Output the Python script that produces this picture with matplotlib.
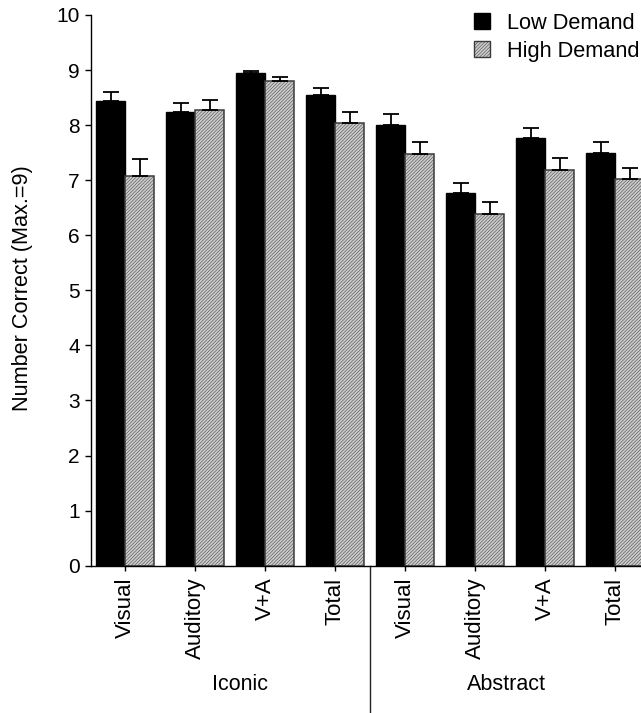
#!/usr/bin/env python3
"""Grouped bar chart: number correct by modality, iconic vs abstract."""

from __future__ import annotations

import matplotlib

matplotlib.use("Agg")
import matplotlib.pyplot as plt
import numpy as np
from matplotlib.patches import Patch

# --- data -------------------------------------------------------------------
CATEGORIES = ["Visual", "Auditory", "V+A", "Total", "Visual", "Auditory", "V+A", "Total"]
GROUPS = ["Iconic", "Abstract"]
LOW_DEMAND = [8.43, 8.24, 8.94, 8.54, 8.00, 6.76, 7.76, 7.50]
LOW_DEMAND_ERR = [0.18, 0.17, 0.04, 0.13, 0.20, 0.19, 0.18, 0.19]
HIGH_DEMAND = [7.08, 8.28, 8.80, 8.03, 7.47, 6.38, 7.19, 7.02]
HIGH_DEMAND_ERR = [0.30, 0.17, 0.08, 0.20, 0.22, 0.22, 0.22, 0.21]
SERIES = ["Low Demand", "High Demand"]
Y_TICKS = list(range(0, 11))

# --- style ------------------------------------------------------------------
_FONT = ["Liberation Sans", "Arial", "DejaVu Sans"]
_LOW_COLOR = "#000000"
_HIGH_COLOR = "#cbcbcb"
_HIGH_EDGE = "#3a3a3a"
# dense, faint hatch approximating the dithered grey fill of the original
_HATCH = "//////////"
_BAR_WIDTH = 0.414
_TICK_SIZE = 15
_CAT_SIZE = 16
_GROUP_SIZE = 15.5

plt.rcParams["font.family"] = _FONT
plt.rcParams["hatch.color"] = "#b3b3b3"
plt.rcParams["hatch.linewidth"] = 0.35


def main() -> None:
    fig = plt.figure(figsize=(6.41, 7.13), dpi=100)
    W, H = 641, 713
    # axes placed in pixel terms: y-axis at x=91, y=10 at 15px, y=0 at 566px
    left, right, top, bottom = 91, 660, 15, 565.7
    ax = fig.add_axes([left / W, 1 - bottom / H, (right - left) / W, (bottom - top) / H])

    x = np.arange(len(CATEGORIES))
    up_low = [np.zeros(len(x)), LOW_DEMAND_ERR]
    up_high = [np.zeros(len(x)), HIGH_DEMAND_ERR]

    ax.bar(x - _BAR_WIDTH / 2, LOW_DEMAND, _BAR_WIDTH, color=_LOW_COLOR,
           edgecolor=_LOW_COLOR, linewidth=1, zorder=2)
    ax.bar(x + _BAR_WIDTH / 2, HIGH_DEMAND, _BAR_WIDTH, color=_HIGH_COLOR,
           edgecolor=_HIGH_EDGE, linewidth=1.1, hatch=_HATCH, zorder=2)
    ax.errorbar(x - _BAR_WIDTH / 2, LOW_DEMAND, yerr=up_low, fmt="none",
                ecolor="black", elinewidth=1.3, capsize=5.5, capthick=1.3, zorder=3)
    ax.errorbar(x + _BAR_WIDTH / 2, HIGH_DEMAND, yerr=up_high, fmt="none",
                ecolor="black", elinewidth=1.3, capsize=5.5, capthick=1.3, zorder=3)

    x_lo = (left - 125.3) / 70
    x_hi = (right - 125.3) / 70
    ax.set_xlim(x_lo, x_hi)
    ax.set_ylim(0, 10)
    ax.set_yticks(Y_TICKS)
    ax.set_yticklabels([str(t) for t in Y_TICKS], fontsize=_TICK_SIZE)
    ax.set_xticks(x)
    ax.set_xticklabels(CATEGORIES, rotation=90, fontsize=_CAT_SIZE)
    ax.tick_params(axis="y", length=4.5, width=1, pad=3.5)
    ax.tick_params(axis="x", length=3.5, width=1, pad=5)

    for side in ("top", "right"):
        ax.spines[side].set_visible(False)
    for side in ("left", "bottom"):
        ax.spines[side].set_linewidth(1)

    # separator between the two stimulus groups, below the axis
    ax.plot([3.5, 3.5], [0, -2.75], color="#222222", linewidth=1, clip_on=False)

    ax.text(1.64, -2.15, GROUPS[0], ha="center", va="center", fontsize=_GROUP_SIZE)
    ax.text(5.45, -2.15, GROUPS[1], ha="center", va="center", fontsize=_GROUP_SIZE)

    fig.text(23 / W, 1 - 288 / H, "Number Correct (Max.=9)", rotation=90,
             ha="center", va="center", fontsize=15.6)

    handles = [
        Patch(facecolor=_LOW_COLOR, edgecolor=_LOW_COLOR, label=SERIES[0]),
        Patch(facecolor=_HIGH_COLOR, edgecolor=_HIGH_EDGE, hatch=_HATCH, label=SERIES[1]),
    ]
    fig.legend(handles=handles, loc="upper left", bbox_to_anchor=(474 / W, 1 - 13 / H),
               frameon=False, fontsize=15.7, handlelength=0.75, handleheight=0.75,
               handletextpad=0.75, labelspacing=0.3, borderpad=0, borderaxespad=0)

    fig.savefig("out.png", dpi=100)
    plt.close(fig)


if __name__ == "__main__":
    main()
